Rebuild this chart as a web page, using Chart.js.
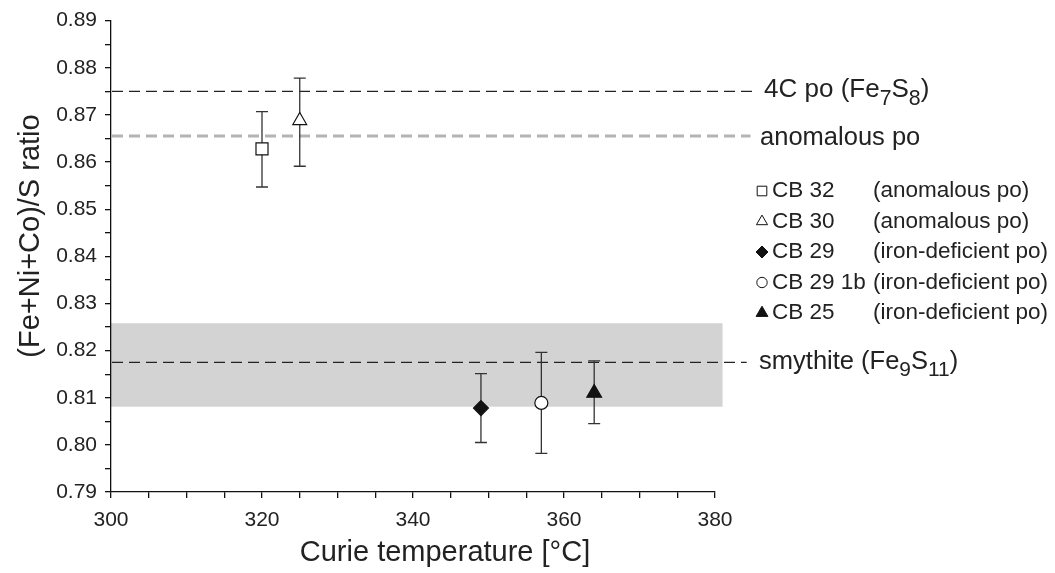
<!DOCTYPE html>
<html>
<head>
<meta charset="utf-8">
<script src="https://cdn.jsdelivr.net/npm/chart.js@4/dist/chart.umd.min.js"></script>
<style>
  html, body { margin: 0; padding: 0; background: #fff; }
  #wrap { width: 1055px; height: 573px; }
</style>
</head>
<body>
<div id="wrap"><canvas id="myChart" width="1055" height="573"></canvas></div>
<script>
// sample data
const samples = ['CB 32', 'CB 30', 'CB 29', 'CB 29 1b', 'CB 25'];
const phases = ['(anomalous po)', '(anomalous po)', '(iron-deficient po)', '(iron-deficient po)', '(iron-deficient po)'];
const curieT = [320, 325, 349, 357, 364];
const ratio = [0.8628, 0.8688, 0.8078, 0.8089, 0.8110];
const ratioLow = [0.8547, 0.8591, 0.8005, 0.7982, 0.8045];
const ratioHigh = [0.8707, 0.8778, 0.8151, 0.8196, 0.8178];

// reference levels
const refLevels = [0.875, 0.8655, 0.8175];
const smythiteBand = [0.8081, 0.8258];

const xTickLabels = [300, 320, 340, 360, 380];
const yTickLabels = ['0.79', '0.80', '0.81', '0.82', '0.83', '0.84', '0.85', '0.86', '0.87', '0.88', '0.89'];

const FONT = "'Liberation Sans', Arial, sans-serif";
const styles = ['rect', 'triangle', 'rectRot', 'circle', 'triangle'];
const fills = ['#fff', '#fff', '#111', '#fff', '#111'];
const radii = [8.5, 8, 7.5, 6.5, 8.5];

const datasets = samples.map((s, i) => ({
  label: s,
  data: [{ x: curieT[i], y: ratio[i] }],
  pointStyle: styles[i],
  pointRadius: radii[i],
  pointHoverRadius: radii[i],
  backgroundColor: fills[i],
  borderColor: '#111',
  pointBorderWidth: 1.2,
  showLine: false
}));

function subText(ctx, parts, x, y, size) {
  // parts: [text, isSub]
  let cx = x;
  parts.forEach(p => {
    const fs = p[1] ? size * 0.82 : size;
    ctx.font = fs + 'px ' + FONT;
    ctx.fillText(p[0], cx, p[1] ? y + size * 0.32 : y);
    cx += ctx.measureText(p[0]).width;
  });
}

const extras = {
  id: 'extras',
  beforeDraw(chart) {
    const { ctx, chartArea, scales: { x, y } } = chart;
    ctx.save();
    ctx.fillStyle = '#d3d3d3';
    const t = y.getPixelForValue(smythiteBand[1]);
    const b = y.getPixelForValue(smythiteBand[0]);
    ctx.fillRect(chartArea.left, t, x.getPixelForValue(381) - chartArea.left, b - t);
    ctx.restore();
  },
  beforeDatasetsDraw(chart) {
    const { ctx, chartArea, scales: { x, y } } = chart;
    ctx.save();
    // reference lines
    const lineDefs = [
      { v: refLevels[0], c: '#222', w: 1.3, end: 385 },
      { v: refLevels[1], c: '#b4b4b4', w: 3, end: 384.7 },
      { v: refLevels[2], c: '#222', w: 1.3, end: 384.2 }
    ];
    lineDefs.forEach(d => {
      const py = y.getPixelForValue(d.v);
      ctx.beginPath();
      ctx.setLineDash([11, 6]);
      ctx.strokeStyle = d.c;
      ctx.lineWidth = d.w;
      ctx.moveTo(chartArea.left + 1, py);
      ctx.lineTo(x.getPixelForValue(d.end), py);
      ctx.stroke();
    });
    ctx.setLineDash([]);
    // error bars
    ctx.strokeStyle = '#333';
    ctx.lineWidth = 1.3;
    curieT.forEach((t, i) => {
      const px = x.getPixelForValue(t);
      const lo = y.getPixelForValue(ratioLow[i]);
      const hi = y.getPixelForValue(ratioHigh[i]);
      ctx.beginPath();
      ctx.moveTo(px, lo); ctx.lineTo(px, hi);
      ctx.moveTo(px - 6, lo); ctx.lineTo(px + 6, lo);
      ctx.moveTo(px - 6, hi); ctx.lineTo(px + 6, hi);
      ctx.stroke();
    });
    ctx.restore();
  },
  afterDraw(chart) {
    const { ctx, scales: { x, y } } = chart;
    ctx.save();
    ctx.fillStyle = '#222';
    ctx.textBaseline = 'middle';
    const lx = x.getPixelForValue(386.5);
    subText(ctx, [['4C po (Fe', 0], ['7', 1], ['S', 0], ['8', 1], [')', 0]], lx, y.getPixelForValue(refLevels[0]) - 1, 26);
    subText(ctx, [['anomalous po', 0]], lx - 4, y.getPixelForValue(refLevels[1]) + 2, 25.5);
    subText(ctx, [['smythite (Fe', 0], ['9', 1], ['S', 0], ['11', 1], [')', 0]], lx - 5, y.getPixelForValue(refLevels[2]), 25.5);

    // axis titles
    ctx.textAlign = 'center';
    ctx.font = '29px ' + FONT;
    ctx.fillText('Curie temperature [°C]', 445, 553);
    ctx.translate(31, 236);
    ctx.rotate(-Math.PI / 2);
    ctx.fillText('(Fe+Ni+Co)/S ratio', 0, 0);
    ctx.setTransform(1, 0, 0, 1, 0, 0);
    ctx.textAlign = 'left';

    // legend
    const rowY = 191, rowH = 30.5;
    samples.forEach((s, i) => {
      const ry = rowY + i * rowH;
      const opts = { pointStyle: styles[i], radius: radii[i] * 0.8, borderWidth: 1 };
      ctx.fillStyle = fills[i];
      ctx.strokeStyle = '#111';
      ctx.lineWidth = 1;
      Chart.helpers.drawPoint(ctx, opts, 762, ry);
      ctx.fillStyle = '#222';
      ctx.font = '22.5px ' + FONT;
      ctx.fillText(s, 772, ry);
      ctx.fillText(phases[i], 873, ry);
    });
    ctx.restore();
  }
};

new Chart(document.getElementById('myChart'), {
  type: 'scatter',
  data: { datasets },
  plugins: [extras],
  options: {
    responsive: false,
    animation: false,
    events: [],
    layout: { padding: { top: 20, right: 340, left: 0, bottom: 0 } },
    plugins: { legend: { display: false }, tooltip: { enabled: false } },
    scales: {
      x: {
        type: 'linear',
        min: 300, max: 380,
        afterFit: s => { s.height = 81; },
        border: { display: true, color: '#111', width: 1.3 },
        grid: { drawOnChartArea: false, drawTicks: true, tickLength: 6, tickColor: '#111', lineWidth: 1.3 },
        ticks: {
          stepSize: 5, autoSkip: false, maxRotation: 0, padding: 10,
          color: '#222', font: { family: FONT, size: 21 },
          callback: v => xTickLabels.includes(v) ? String(v) : ''
        },
        title: { display: false }
      },
      y: {
        type: 'linear',
        min: 0.79, max: 0.89,
        afterFit: s => { s.width = 111; },
        border: { display: true, color: '#111', width: 1.3 },
        grid: { drawOnChartArea: false, drawTicks: true, tickLength: 6, tickColor: '#111', lineWidth: 1.3 },
        ticks: {
          stepSize: 0.005, autoSkip: false, padding: 8,
          color: '#222', font: { family: FONT, size: 21 },
          callback: v => {
            const lbl = v.toFixed(2);
            return Math.abs(v * 100 - Math.round(v * 100)) < 1e-6 && yTickLabels.includes(lbl) ? lbl : '';
          }
        },
        title: { display: false }
      }
    }
  }
});
</script>
</body>
</html>
